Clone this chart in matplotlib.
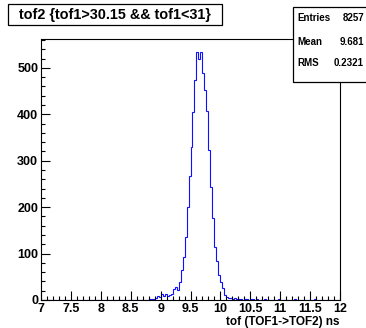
import matplotlib
matplotlib.use('Agg')
import matplotlib.pyplot as plt
from matplotlib.patches import Rectangle
from matplotlib.ticker import MultipleLocator, FuncFormatter
import numpy as np

# histogram tof2, 150 bins from 7 to 12 ns
x_lo = 7.0
x_hi = 12.0
n_bins = 150
counts = [
    0, 0, 0, 0, 0, 0, 0, 0, 0, 0,
    0, 0, 0, 0, 0, 0, 0, 0, 0, 0,
    0, 0, 0, 0, 0, 0, 0, 0, 0, 0,
    0, 0, 0, 0, 0, 0, 0, 0, 0, 0,
    0, 0, 0, 0, 0, 0, 0, 0, 0, 0,
    0, 1, 0, 1, 2, 3, 2, 4, 9, 6,
    13, 9, 13, 9, 11, 13, 23, 27, 22, 39,
    65, 93, 136, 201, 266, 330, 405, 474, 535, 518,
    535, 488, 452, 406, 323, 244, 176, 115, 83, 54,
    39, 25, 11, 7, 5, 4, 3, 4, 2, 3,
    2, 1, 3, 2, 1, 2, 2, 1, 2, 1,
    1, 0, 2, 1, 0, 1, 0, 0, 1, 2,
    0, 1, 0, 0, 1, 0, 1, 2, 1, 0,
    0, 1, 0, 1, 0, 0, 1, 2, 0, 1,
    0, 0, 1, 0, 0, 1, 0, 0, 1, 0,
]
y_max = 562

title = "tof2 {tof1>30.15 && tof1<31}"
xlabel = "tof (TOF1->TOF2) ns"
stat_names = ["Entries", "Mean", "RMS"]
stat_values = ["8257", "9.681", "0.2321"]

W, H = 366, 328
fnt = 'Liberation Sans'

fig = plt.figure(figsize=(W / 100, H / 100), dpi=100)
ax = fig.add_axes([41 / W, 1 - 300 / H, 299 / W, 261 / H])

edges = np.linspace(x_lo, x_hi, n_bins + 1)
ax.stairs(counts, edges, color='#1010ff', lw=0.8)

ax.set_xlim(x_lo, x_hi)
ax.set_ylim(0, y_max)
ax.xaxis.set_major_locator(MultipleLocator(0.5))
ax.xaxis.set_minor_locator(MultipleLocator(0.1))
ax.yaxis.set_major_locator(MultipleLocator(100))
ax.yaxis.set_minor_locator(MultipleLocator(20))
ax.xaxis.set_major_formatter(FuncFormatter(lambda v, p: '%g' % v))
ax.yaxis.set_major_formatter(FuncFormatter(lambda v, p: '%g' % v))
ax.tick_params(which='both', direction='in', top=False, right=False, width=0.8)
ax.tick_params(which='major', length=6.2)
ax.tick_params(which='minor', length=3.1)
ax.tick_params(axis='x', pad=2.5)
ax.tick_params(axis='y', pad=2.0)
for lab in ax.get_xticklabels() + ax.get_yticklabels():
    lab.set_fontfamily(fnt)
    lab.set_fontweight('bold')
    lab.set_fontsize(9)
for s in ax.spines.values():
    s.set_linewidth(0.8)

fig.text(339 / W, 1 - 322 / H, xlabel, ha='right', va='center',
         family=fnt, weight='bold', fontsize=8.5)

# title box
fig.add_artist(Rectangle((8 / W, 1 - 25 / H), 214 / W, 21 / H, transform=fig.transFigure,
                         fc='white', ec='black', lw=0.9))
fig.text(115 / W, 1 - 14.5 / H, title, ha='center', va='center',
         family=fnt, weight='bold', fontsize=10.4)

# stats box
fig.add_artist(Rectangle((294 / W, 1 - 83 / H), 72 / W, 75 / H, transform=fig.transFigure,
                         fc='black', ec='none'))
fig.add_artist(Rectangle((293 / W, 1 - 82 / H), 74 / W, 75 / H, transform=fig.transFigure,
                         fc='white', ec='black', lw=0.9))
ys = [18, 42, 63]
for name, val, yy in zip(stat_names, stat_values, ys):
    fig.text(297 / W, 1 - yy / H, name, ha='left', va='center',
             family=fnt, weight='bold', fontsize=7)
    fig.text(364 / W, 1 - yy / H, val, ha='right', va='center',
             family=fnt, weight='bold', fontsize=7)

fig.savefig('out.png', dpi=100)
